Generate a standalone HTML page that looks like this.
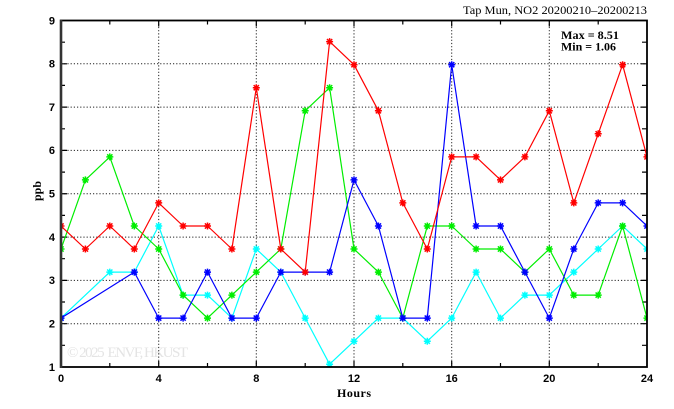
<!DOCTYPE html>
<html><head><meta charset="utf-8"><style>
html,body{margin:0;padding:0;background:#fff;}
svg{display:block;}
</style></head><body>
<svg width="674" height="409" viewBox="0 0 674 409" xmlns="http://www.w3.org/2000/svg">
<defs>
<clipPath id="pa"><rect x="61" y="20.5" width="586" height="346.5"/></clipPath>
<path id="st" d="M-3.5,0H3.5M0,-3.5V3.5M-2.6,-2.6L2.6,2.6M-2.6,2.6L2.6,-2.6" fill="none"/>
</defs>
<rect width="674" height="409" fill="#fff"/>
<text x="67" y="357" font-family="Liberation Serif, serif" font-size="15" fill="#e4e4e4" textLength="121">© 2025 &#160;ENVF, HKUST</text>
<g stroke="#222" stroke-width="1" stroke-dasharray="1.2 2" fill="none">
<path d="M158.7,20.5V367M256.3,20.5V367M354,20.5V367M451.7,20.5V367M549.3,20.5V367"/>
<path d="M61,323.7H647M61,280.4H647M61,237.1H647M61,193.75H647M61,150.4H647M61,107.1H647M61,63.8H647"/>
</g>
<g stroke="#000" stroke-width="1.2" fill="none">
<path d="M109.8,367v-4M207.5,367v-4M305.2,367v-4M402.8,367v-4M500.5,367v-4M598.2,367v-4M109.8,20.5v4M207.5,20.5v4M305.2,20.5v4M402.8,20.5v4M500.5,20.5v4M598.2,20.5v4"/>
<path d="M158.7,367v-6M256.3,367v-6M354,367v-6M451.7,367v-6M549.3,367v-6M158.7,20.5v6M256.3,20.5v6M354,20.5v6M451.7,20.5v6M549.3,20.5v6"/>
<path d="M61,345.3h4M61,302h4M61,258.7h4M61,215.4h4M61,172.1h4M61,128.8h4M61,85.4h4M61,42.2h4M647,345.3h-5M647,302h-5M647,258.7h-5M647,215.4h-5M647,172.1h-5M647,128.8h-5M647,85.4h-5M647,42.2h-5"/>
<path d="M61,323.7h6M61,280.4h6M61,237.1h6M61,193.75h6M61,150.4h6M61,107.1h6M61,63.8h6M647,323.7h-6M647,280.4h-6M647,237.1h-6M647,193.75h-6M647,150.4h-6M647,107.1h-6M647,63.8h-6"/>
</g>
<g clip-path="url(#pa)" fill="none" stroke-width="1.2" stroke-linejoin="round">
<g stroke="#00ffff">
<polyline points="61,318.1 109.8,272.1 134.3,272.1 158.7,226 183.1,295.1 207.5,295.1 231.9,318.1 256.3,249 280.8,272.1 305.2,318.1 329.6,364.2 354,341.2 378.4,318.1 402.8,318.1 427.3,341.2 451.7,318.1 476.1,272.1 500.5,318.1 524.9,295.1 549.3,295.1 573.8,272.1 598.2,249 622.6,226 647,249"/>
<g stroke-width="1.5">
<use href="#st" x="61" y="318.1"/><use href="#st" x="109.8" y="272.1"/><use href="#st" x="134.3" y="272.1"/><use href="#st" x="158.7" y="226"/><use href="#st" x="183.1" y="295.1"/><use href="#st" x="207.5" y="295.1"/><use href="#st" x="231.9" y="318.1"/><use href="#st" x="256.3" y="249"/><use href="#st" x="280.8" y="272.1"/><use href="#st" x="305.2" y="318.1"/><use href="#st" x="329.6" y="364.2"/><use href="#st" x="354" y="341.2"/><use href="#st" x="378.4" y="318.1"/><use href="#st" x="402.8" y="318.1"/><use href="#st" x="427.3" y="341.2"/><use href="#st" x="451.7" y="318.1"/><use href="#st" x="476.1" y="272.1"/><use href="#st" x="500.5" y="318.1"/><use href="#st" x="524.9" y="295.1"/><use href="#st" x="549.3" y="295.1"/><use href="#st" x="573.8" y="272.1"/><use href="#st" x="598.2" y="249"/><use href="#st" x="622.6" y="226"/><use href="#st" x="647" y="249"/>
</g></g>
<g stroke="#00ee00">
<polyline points="61,249 85.4,179.9 109.8,156.9 134.3,226 158.7,249 183.1,295.1 207.5,318.1 231.9,295.1 256.3,272.1 280.8,249 305.2,110.8 329.6,87.7 354,249 378.4,272.1 402.8,318.1 427.3,226 451.7,226 476.1,249 500.5,249 524.9,272.1 549.3,249 573.8,295.1 598.2,295.1 622.6,226 647,318.1"/>
<g stroke-width="1.5">
<use href="#st" x="61" y="249"/><use href="#st" x="85.4" y="179.9"/><use href="#st" x="109.8" y="156.9"/><use href="#st" x="134.3" y="226"/><use href="#st" x="158.7" y="249"/><use href="#st" x="183.1" y="295.1"/><use href="#st" x="207.5" y="318.1"/><use href="#st" x="231.9" y="295.1"/><use href="#st" x="256.3" y="272.1"/><use href="#st" x="280.8" y="249"/><use href="#st" x="305.2" y="110.8"/><use href="#st" x="329.6" y="87.7"/><use href="#st" x="354" y="249"/><use href="#st" x="378.4" y="272.1"/><use href="#st" x="402.8" y="318.1"/><use href="#st" x="427.3" y="226"/><use href="#st" x="451.7" y="226"/><use href="#st" x="476.1" y="249"/><use href="#st" x="500.5" y="249"/><use href="#st" x="524.9" y="272.1"/><use href="#st" x="549.3" y="249"/><use href="#st" x="573.8" y="295.1"/><use href="#st" x="598.2" y="295.1"/><use href="#st" x="622.6" y="226"/><use href="#st" x="647" y="318.1"/>
</g></g>
<g stroke="#0000ff">
<polyline points="61,318.1 134.3,272.1 158.7,318.1 183.1,318.1 207.5,272.1 231.9,318.1 256.3,318.1 280.8,272.1 305.2,272.1 329.6,272.1 354,179.9 378.4,226 402.8,318.1 427.3,318.1 451.7,64.7 476.1,226 500.5,226 524.9,272.1 549.3,318.1 573.8,249 598.2,202.9 622.6,202.9 647,226"/>
<g stroke-width="1.5">
<use href="#st" x="61" y="318.1"/><use href="#st" x="134.3" y="272.1"/><use href="#st" x="158.7" y="318.1"/><use href="#st" x="183.1" y="318.1"/><use href="#st" x="207.5" y="272.1"/><use href="#st" x="231.9" y="318.1"/><use href="#st" x="256.3" y="318.1"/><use href="#st" x="280.8" y="272.1"/><use href="#st" x="305.2" y="272.1"/><use href="#st" x="329.6" y="272.1"/><use href="#st" x="354" y="179.9"/><use href="#st" x="378.4" y="226"/><use href="#st" x="402.8" y="318.1"/><use href="#st" x="427.3" y="318.1"/><use href="#st" x="451.7" y="64.7"/><use href="#st" x="476.1" y="226"/><use href="#st" x="500.5" y="226"/><use href="#st" x="524.9" y="272.1"/><use href="#st" x="549.3" y="318.1"/><use href="#st" x="573.8" y="249"/><use href="#st" x="598.2" y="202.9"/><use href="#st" x="622.6" y="202.9"/><use href="#st" x="647" y="226"/>
</g></g>
<g stroke="#ff0000">
<polyline points="61,226 85.4,249 109.8,226 134.3,249 158.7,202.9 183.1,226 207.5,226 231.9,249 256.3,87.7 280.8,249 305.2,272.1 329.6,41.6 354,64.7 378.4,110.8 402.8,202.9 427.3,249 451.7,156.9 476.1,156.9 500.5,179.9 524.9,156.9 549.3,110.8 573.8,202.9 598.2,133.8 622.6,64.7 647,156.9"/>
<g stroke-width="1.5">
<use href="#st" x="61" y="226"/><use href="#st" x="85.4" y="249"/><use href="#st" x="109.8" y="226"/><use href="#st" x="134.3" y="249"/><use href="#st" x="158.7" y="202.9"/><use href="#st" x="183.1" y="226"/><use href="#st" x="207.5" y="226"/><use href="#st" x="231.9" y="249"/><use href="#st" x="256.3" y="87.7"/><use href="#st" x="280.8" y="249"/><use href="#st" x="305.2" y="272.1"/><use href="#st" x="329.6" y="41.6"/><use href="#st" x="354" y="64.7"/><use href="#st" x="378.4" y="110.8"/><use href="#st" x="402.8" y="202.9"/><use href="#st" x="427.3" y="249"/><use href="#st" x="451.7" y="156.9"/><use href="#st" x="476.1" y="156.9"/><use href="#st" x="500.5" y="179.9"/><use href="#st" x="524.9" y="156.9"/><use href="#st" x="549.3" y="110.8"/><use href="#st" x="573.8" y="202.9"/><use href="#st" x="598.2" y="133.8"/><use href="#st" x="622.6" y="64.7"/><use href="#st" x="647" y="156.9"/>
</g></g>
</g>
<rect x="61" y="20.5" width="586" height="346.5" fill="none" stroke="#000" stroke-width="1.8"/>
<line x1="61" y1="19.6" x2="61" y2="368" stroke="#333" stroke-width="2.6"/>
<g font-family="Liberation Sans, Arial, sans-serif" font-weight="bold" font-size="11" fill="#000" text-anchor="end">
<text x="55" y="370.8">1</text><text x="55" y="327.5">2</text><text x="55" y="284.2">3</text><text x="55" y="240.9">4</text><text x="55" y="197.6">5</text><text x="55" y="154.2">6</text><text x="55" y="110.9">7</text><text x="55" y="67.6">8</text><text x="55" y="24.3">9</text>
</g>
<g font-family="Liberation Sans, Arial, sans-serif" font-weight="bold" font-size="11" fill="#000" text-anchor="middle">
<text x="61" y="382">0</text><text x="158.7" y="382">4</text><text x="256.3" y="382">8</text><text x="354" y="382">12</text><text x="451.7" y="382">16</text><text x="549.3" y="382">20</text><text x="647" y="382">24</text>
</g>
<text x="354" y="397" font-family="Liberation Serif, serif" font-weight="bold" font-size="12" text-anchor="middle" textLength="34">Hours</text>
<text transform="translate(41,191) rotate(-90)" font-family="Liberation Serif, serif" font-weight="bold" font-size="12" text-anchor="middle">ppb</text>
<text x="463" y="14" font-family="Liberation Serif, serif" font-size="12" textLength="184" lengthAdjust="spacingAndGlyphs">Tap Mun, NO2 20200210–20200213</text>
<text x="561" y="39" font-family="Liberation Serif, serif" font-weight="bold" font-size="11.5" textLength="58" lengthAdjust="spacingAndGlyphs">Max = 8.51</text>
<text x="561" y="50.5" font-family="Liberation Serif, serif" font-weight="bold" font-size="11.5" textLength="55" lengthAdjust="spacingAndGlyphs">Min = 1.06</text>
</svg>
</body></html>
